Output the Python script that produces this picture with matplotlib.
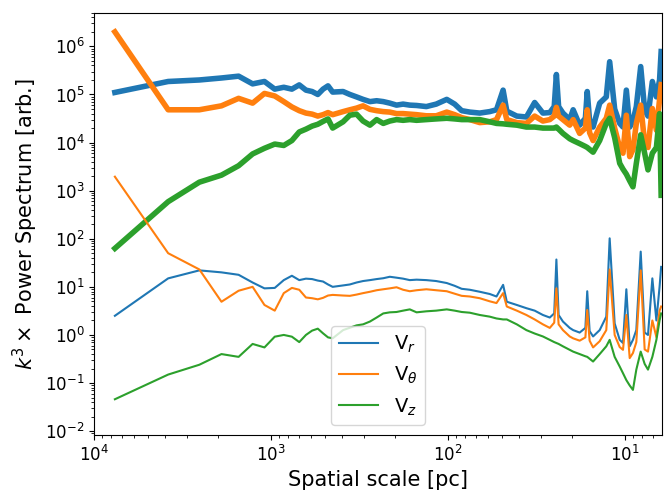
import matplotlib
matplotlib.use("Agg")
import matplotlib.pyplot as plt

# spatial scale of each sample [pc]
scale_pc = [7650, 3825, 2550, 1912, 1530, 1275, 1093, 956, 850, 765,
            695, 637, 588, 546, 510, 478, 450, 393, 360, 330,
            303, 277, 254, 233, 214, 196, 180, 165, 151, 133,
            117, 102, 92, 84, 75.6, 66.4, 58.3, 53.4, 49.0, 46.7,
            41.0, 36.2, 32.5, 29.2, 26.7, 25.2, 24.5, 23.8, 22.5, 20.6,
            19.7, 18.1, 16.8, 16.4, 15.9, 15.2, 13.95, 12.8, 12.25, 11.48,
            10.75, 10.3, 9.86, 9.44, 9.05, 8.66, 8.18, 7.77, 7.44, 7.03,
            6.67, 6.40, 6.27]

# thick curves (upper set)
vr_thick = [1.1e5, 1.86e5, 2.0e5, 2.2e5, 2.4e5, 1.66e5, 1.86e5, 1.29e5, 1.41e5, 1.29e5,
            1.58e5, 1.23e5, 1.15e5, 1.0e5, 1.29e5, 1.51e5, 1.12e5, 1.15e5, 1.0e5, 8.9e4,
            7.9e4, 7.1e4, 7.4e4, 7.1e4, 6.6e4, 6.0e4, 6.3e4, 6.0e4, 5.9e4, 5.6e4,
            6.3e4, 7.9e4, 6.3e4, 4.6e4, 4.3e4, 4.1e4, 4.4e4, 4.8e4, 1.23e5, 4.5e4,
            3.55e4, 3.4e4, 6.8e4, 4.1e4, 4.2e4, 5.6e4, 2.6e5, 5.6e4, 4.1e4, 3.0e4,
            4.8e4, 2.3e4, 3.2e4, 1.15e5, 2.8e4, 2.1e4, 6.6e4, 8.9e4, 4.8e5, 5.0e4,
            2.5e4, 2.1e4, 1.23e5, 2.1e4, 2.8e4, 5.6e4, 3.8e5, 4.8e4, 3.55e4, 1.86e5,
            8.9e4, 2.0e5, 7.8e5]
vt_thick = [2.0e6, 4.8e4, 4.8e4, 5.8e4, 8.3e4, 6.6e4, 1.05e5, 9.3e4, 7.1e4, 5.5e4,
            4.6e4, 4.1e4, 3.9e4, 3.55e4, 3.8e4, 4.2e4, 3.8e4, 4.4e4, 4.8e4, 5.2e4,
            5.8e4, 4.9e4, 4.6e4, 4.4e4, 4.3e4, 4.0e4, 4.0e4, 3.9e4, 3.8e4, 3.6e4,
            3.6e4, 4.3e4, 3.8e4, 3.3e4, 3.0e4, 2.6e4, 2.7e4, 3.0e4, 6.0e4, 3.0e4,
            2.6e4, 2.5e4, 3.55e4, 2.8e4, 3.0e4, 3.55e4, 5.4e4, 3.55e4, 3.0e4, 2.3e4,
            3.0e4, 1.55e4, 2.0e4, 4.8e4, 1.6e4, 1.1e4, 2.1e4, 3.2e4, 6.0e4, 2.0e4,
            7.9e3, 6.0e3, 3.7e4, 5.1e3, 7.1e3, 2.5e4, 6.0e4, 9.8e3, 7.9e3, 5.1e4,
            1.8e4, 7.9e4, 1.6e5]
vz_thick = [63, 590, 1.5e3, 2.1e3, 3.3e3, 5.8e3, 7.6e3, 9.3e3, 8.7e3, 1.1e4,
            1.66e4, 1.9e4, 2.2e4, 2.4e4, 2.75e4, 3.1e4, 2.0e4, 2.7e4, 3.7e4, 3.9e4,
            2.8e4, 2.3e4, 3.0e4, 2.5e4, 2.8e4, 3.0e4, 2.9e4, 3.0e4, 2.9e4, 3.0e4,
            3.1e4, 3.2e4, 3.1e4, 3.0e4, 3.0e4, 3.0e4, 2.7e4, 2.5e4, 2.45e4, 2.4e4,
            2.3e4, 2.1e4, 2.1e4, 2.0e4, 2.0e4, 2.0e4, 2.1e4, 1.9e4, 1.55e4, 1.2e4,
            1.1e4, 9.5e3, 8.3e3, 7.9e3, 7.2e3, 6.3e3, 1.1e4, 2.5e4, 3.2e4, 1.26e4,
            3.7e3, 2.8e3, 2.2e3, 1.6e3, 1.2e3, 3.7e3, 1.45e4, 6.0e3, 2.7e3, 6.0e3,
            7.9e3, 4.0e4, 800]

# thin curves (lower set)
vr_thin = [2.5, 15, 22, 20, 17.8, 12.3, 9.3, 9.5, 13.8, 17,
           13.8, 14.8, 14.5, 13.5, 12.9, 11.2, 10, 10.7, 11.2, 12.3,
           13.2, 13.8, 14.5, 15.1, 16.2, 15.5, 14.8, 13.8, 14.1, 13.8,
           13.2, 12.0, 10.5, 9.1, 8.7, 7.9, 7.1, 6.3, 11, 4.9,
           4.2, 3.6, 3.2, 2.6, 2.3, 2.8, 37, 2.6, 1.9, 1.4,
           1.26, 1.12, 1.4, 8.1, 1.2, 0.93, 1.26, 2.4, 102, 1.74,
           0.79, 0.68, 8.9, 0.58, 0.79, 1.26, 54, 1.12, 1.0, 15,
           2.0, 10, 26]
vt_thin = [1950, 50, 23, 4.9, 8.3, 10, 4.2, 3.2, 7.4, 9.5,
           8.7, 6.0, 5.8, 5.5, 5.9, 6.6, 6.8, 6.6, 6.5, 6.9,
           7.4, 7.9, 8.5, 8.9, 9.3, 9.8, 8.7, 8.1, 8.5, 8.9,
           8.5, 8.1, 7.2, 6.5, 6.3, 5.8, 5.0, 4.6, 7.4, 3.9,
           3.2, 2.6, 2.1, 1.66, 1.4, 1.8, 9.3, 1.66, 1.26, 0.93,
           0.85, 0.76, 0.89, 3.3, 0.76, 0.55, 0.74, 1.26, 23, 1.0,
           0.56, 0.49, 2.6, 0.33, 0.42, 0.71, 22, 0.5, 0.45, 2.0,
           0.9, 3.2, 3.9]
vz_thin = [0.046, 0.15, 0.24, 0.40, 0.35, 0.65, 0.55, 0.92, 1.0, 0.92,
           0.71, 1.0, 1.23, 1.35, 1.08, 0.89, 0.85, 1.26, 1.41, 1.58,
           1.66, 1.9, 2.3, 2.8, 2.95, 3.0, 3.2, 3.4, 2.95, 3.1,
           3.2, 3.4, 3.2, 3.0, 2.9, 2.6, 2.4, 2.2, 2.1, 2.1,
           1.66, 1.26, 1.07, 0.93, 0.79, 0.71, 0.68, 0.65, 0.58, 0.49,
           0.45, 0.40, 0.36, 0.35, 0.32, 0.28, 0.40, 0.58, 0.79, 0.35,
           0.22, 0.16, 0.115, 0.089, 0.072, 0.19, 0.45, 0.25, 0.19, 0.35,
           0.79, 2.0, 2.8]

colors = ["#1f77b4", "#ff7f0e", "#2ca02c"]
labels = ["V$_r$", "V$_\\theta$", "V$_z$"]

fig = plt.figure(figsize=(6.65, 4.9), dpi=100)
ax = fig.add_axes([0.1418, 0.1122, 0.8537, 0.8618])

for y, c in zip([vr_thick, vt_thick, vz_thick], colors):
    ax.plot(scale_pc, y, color=c, lw=4)
for y, c, lab in zip([vr_thin, vt_thin, vz_thin], colors, labels):
    ax.plot(scale_pc, y, color=c, lw=1.5, label=lab)

ax.set_xscale("log")
ax.set_yscale("log")
ax.set_xlim(1e4, 6.2)
ax.set_ylim(8.3e-3, 5.0e6)
ax.tick_params(labelsize=12)
ax.set_xlabel("Spatial scale [pc]", fontsize=15)
ax.set_ylabel("$k^3\\times$ Power Spectrum [arb.]", fontsize=15)
ax.legend(loc="lower center", fontsize=14)

fig.savefig("out.png", dpi=100)
